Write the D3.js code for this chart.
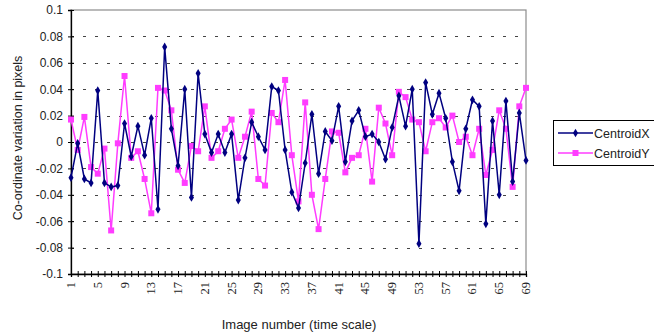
<!DOCTYPE html>
<html>
<head>
<meta charset="utf-8">
<script src="https://cdn.jsdelivr.net/npm/d3@7"></script>
<style>
  body { margin: 0; background: #fff; }
  svg { display: block; }
</style>
</head>
<body>
<div id="chart"></div>
<script>
// values
let frames = d3.range(1, 70);
let centroidX = [
  -0.027, -0.001, -0.028, -0.031, 0.039, -0.031, -0.034, -0.033, 0.014, -0.011,
  0.012, -0.010, 0.018, -0.051, 0.072, 0.010, -0.018, 0.040, -0.042, 0.052,
  0.006, -0.008, 0.006, -0.008, 0.006, -0.044, -0.012, 0.015, 0.004, -0.006,
  0.042, 0.039, -0.006, -0.038, -0.050, -0.016, 0.021, -0.024, 0.008, 0.001,
  0.027, -0.015, 0.016, 0.024, 0.004, 0.006, 0.000, -0.013, 0.011, 0.035,
  0.012, 0.040, -0.077, 0.045, 0.021, 0.037, 0.018, -0.015, -0.037, 0.010,
  0.032, 0.027, -0.062, 0.016, -0.040, 0.031, -0.030, 0.022, -0.014
];
let centroidY = [
  0.017, -0.006, 0.019, -0.019, -0.024, -0.005, -0.067, -0.001, 0.050, -0.012,
  -0.007, -0.028, -0.054, 0.041, 0.039, 0.024, -0.021, -0.031, -0.003, -0.007,
  0.027, -0.012, -0.007, 0.010, 0.017, -0.012, 0.004, 0.023, -0.028, -0.033,
  0.022, 0.015, 0.047, -0.010, -0.045, 0.030, -0.040, -0.066, -0.028, 0.008,
  0.007, -0.023, -0.012, -0.010, 0.010, -0.030, 0.026, 0.014, -0.010, 0.038,
  0.034, 0.017, 0.015, -0.007, 0.015, 0.018, 0.011, 0.020, 0.000, 0.004,
  -0.010, 0.010, -0.025, -0.006, 0.024, 0.010, -0.034, 0.027, 0.041
];
let yTicks = [-0.1, -0.08, -0.06, -0.04, -0.02, 0, 0.02, 0.04, 0.06, 0.08, 0.1];
let xLabelFrames = d3.range(1, 70, 4);
let seriesNames = ["CentroidX", "CentroidY"];

let width = 654, height = 335;
let plotLeft = 71, plotRight = 526, plotTop = 10, plotBottom = 274;

let svg = d3.select("#chart").append("svg")
    .attr("width", width)
    .attr("height", height);

let x = d3.scaleLinear().domain([1, 69]).range([plotLeft, plotRight]);
let y = d3.scaleLinear().domain([-0.1, 0.1]).range([plotBottom, plotTop]);

// plot frame (grey top / right)
svg.append("rect")
    .attr("x", plotLeft).attr("y", plotTop)
    .attr("width", plotRight - plotLeft).attr("height", plotBottom - plotTop)
    .attr("fill", "none").attr("stroke", "#8c8c8c").attr("stroke-width", 1.2);

// dashed grid
svg.append("g")
    .selectAll("line")
    .data(yTicks.filter(d => d > -0.1 && d < 0.1))
    .join("line")
    .attr("x1", plotLeft).attr("x2", plotRight)
    .attr("y1", d => Math.round(y(d)) + 0.5)
    .attr("y2", d => Math.round(y(d)) + 0.5)
    .attr("stroke", "#444")
    .attr("stroke-dasharray", "3,9");

// y axis
let yAxis = svg.append("g")
    .attr("transform", `translate(${plotLeft},0)`)
    .call(d3.axisLeft(y).tickValues(yTicks).tickSize(3)
        .tickFormat(d => d === 0 ? "0" : String(+d.toFixed(2))));
yAxis.select(".domain").attr("stroke", "#000").attr("stroke-width", 1.3);
yAxis.selectAll(".tick line").attr("x2", 3).attr("x1", -3).attr("stroke", "#000");
yAxis.selectAll("text")
    .attr("x", -8)
    .attr("font-family", "Liberation Sans, Arial, sans-serif")
    .attr("font-size", 12)
    .attr("fill", "#222");

// x axis
let xAxis = svg.append("g")
    .attr("transform", `translate(0,${plotBottom})`)
    .call(d3.axisBottom(x).tickValues(frames).tickSize(3).tickFormat(""));
xAxis.select(".domain").attr("stroke", "#000").attr("stroke-width", 1.3);
xAxis.selectAll(".tick line").attr("y1", -3).attr("y2", 3).attr("stroke", "#000");

svg.append("g")
    .selectAll("text")
    .data(xLabelFrames)
    .join("text")
    .attr("transform", d => `translate(${x(d) + 4},${plotBottom + 8}) rotate(-90)`)
    .attr("text-anchor", "end")
    .attr("font-family", "Liberation Serif, Times New Roman, serif")
    .attr("font-size", 12.5)
    .attr("fill", "#222")
    .text(d => d);

// axis titles
svg.append("text")
    .attr("x", 299).attr("y", 329)
    .attr("text-anchor", "middle")
    .attr("font-family", "Liberation Sans, Arial, sans-serif")
    .attr("font-size", 13)
    .attr("fill", "#222")
    .text("Image number (time scale)");

svg.append("text")
    .attr("transform", `translate(22,138) rotate(-90)`)
    .attr("text-anchor", "middle")
    .attr("font-family", "Liberation Sans, Arial, sans-serif")
    .attr("font-size", 12.5)
    .attr("fill", "#222")
    .text("Co-ordinate variation in pixels");

// series
let line = d3.line().x((d, i) => x(frames[i])).y(d => y(d));
let colors = ["#000080", "#ff3cff"];

svg.append("path").datum(centroidY)
    .attr("d", line).attr("fill", "none")
    .attr("stroke", colors[1]).attr("stroke-width", 1.5);
svg.append("g").selectAll("rect").data(centroidY).join("rect")
    .attr("x", (d, i) => x(frames[i]) - 3)
    .attr("y", d => y(d) - 3)
    .attr("width", 6).attr("height", 6)
    .attr("fill", colors[1]);

svg.append("path").datum(centroidX)
    .attr("d", line).attr("fill", "none")
    .attr("stroke", colors[0]).attr("stroke-width", 1.5);
svg.append("g").selectAll("path").data(centroidX).join("path")
    .attr("d", d3.symbol(d3.symbolDiamond, 22))
    .attr("transform", (d, i) => `translate(${x(frames[i])},${y(d)})`)
    .attr("fill", colors[0]);

// legend
let legend = svg.append("g");
legend.append("rect")
    .attr("x", 553.5).attr("y", 120.5)
    .attr("width", 110).attr("height", 45)
    .attr("fill", "#fff").attr("stroke", "#000");

seriesNames.forEach((name, i) => {
    let ly = 133 + i * 20;
    legend.append("line")
        .attr("x1", 558).attr("x2", 593)
        .attr("y1", ly).attr("y2", ly)
        .attr("stroke", colors[i]).attr("stroke-width", 1.5);
    if (i === 0) {
        legend.append("path")
            .attr("d", d3.symbol(d3.symbolDiamond, 22))
            .attr("transform", `translate(575.5,${ly})`)
            .attr("fill", colors[i]);
    } else {
        legend.append("rect")
            .attr("x", 572.5).attr("y", ly - 3)
            .attr("width", 6).attr("height", 6)
            .attr("fill", colors[i]);
    }
    legend.append("text")
        .attr("x", 594).attr("y", ly + 4.5)
        .attr("font-family", "Liberation Sans, Arial, sans-serif")
        .attr("font-size", 12.5)
        .attr("fill", "#222")
        .text(name);
});
</script>
</body>
</html>
